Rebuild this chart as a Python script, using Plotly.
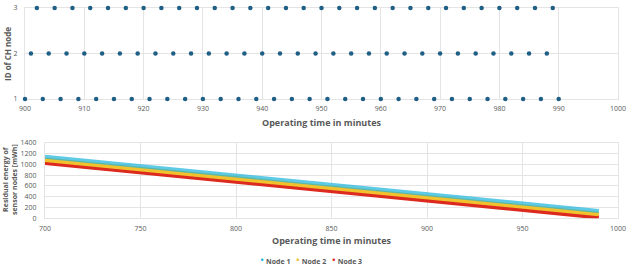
import plotly.graph_objects as go

# --- Top chart: cluster-head node ID per minute ---
ch_minutes = [900, 901, 902, 903, 904, 905, 906, 907, 908, 909,
              910, 911, 912, 913, 914, 915, 916, 917, 918, 919,
              920, 921, 922, 923, 924, 925, 926, 927, 928, 929,
              930, 931, 932, 933, 934, 935, 936, 937, 938, 939,
              940, 941, 942, 943, 944, 945, 946, 947, 948, 949,
              950, 951, 952, 953, 954, 955, 956, 957, 958, 959,
              960, 961, 962, 963, 964, 965, 966, 967, 968, 969,
              970, 971, 972, 973, 974, 975, 976, 977, 978, 979,
              980, 981, 982, 983, 984, 985, 986, 987, 988, 989,
              990]
ch_ids = [1, 2, 3, 1, 2, 3, 1, 2, 3, 1,
          2, 3, 1, 2, 3, 1, 2, 3, 1, 2,
          3, 1, 2, 3, 1, 2, 3, 1, 2, 3,
          1, 2, 3, 1, 2, 3, 1, 2, 3, 1,
          2, 3, 1, 2, 3, 1, 2, 3, 1, 2,
          3, 1, 2, 3, 1, 2, 3, 1, 2, 3,
          1, 2, 3, 1, 2, 3, 1, 2, 3, 1,
          2, 3, 1, 2, 3, 1, 2, 3, 1, 2,
          3, 1, 2, 3, 1, 2, 3, 1, 2, 3,
          1]

# --- Bottom chart: residual energy ---
energy_minutes = [700, 750, 800, 850, 900, 950, 990]
node1_energy = [1140, 965, 792, 620, 447, 275, 135]
node2_energy = [1085, 912, 740, 567, 395, 222, 80]
node3_energy = [1030, 857, 685, 512, 340, 167, 20]
node_names = ["Node 1", "Node 2", "Node 3"]
node_colors = ["#1cb5dc", "#f2c12e", "#dd2a1e"]

FONT = "Open Sans"
GRID = "#e4e4e4"
TICK = "#595959"

fig = go.Figure()

fig.add_trace(go.Scatter(
    x=ch_minutes, y=ch_ids, mode="markers",
    marker=dict(size=4.5, color="#1f5f85"),
    showlegend=False, cliponaxis=False, xaxis="x", yaxis="y"))

order = [2, 1, 0]
series = [node1_energy, node2_energy, node3_energy]
for i in order:
    fig.add_trace(go.Scatter(
        x=energy_minutes, y=series[i], mode="lines", name=node_names[i],
        line=dict(color=node_colors[i], width=4.5 if i else 4),
        opacity=0.7 if i == 0 else 1.0,
        showlegend=False, xaxis="x2", yaxis="y2"))

axis_common = dict(showgrid=True, gridcolor=GRID, gridwidth=1,
                   showline=True, linecolor=GRID, mirror=True,
                   layer="below traces", automargin=False,
                   zeroline=False, ticks="",
                   tickfont=dict(family=FONT, size=7, color=TICK))

legend_text = "   ".join(
    f"<span style='color:{c};font-size:11px'>•</span> <b>{n}</b>"
    for n, c in zip(node_names, node_colors))

fig.update_layout(
    width=635, height=266,
    margin=dict(l=0, r=0, t=0, b=0, autoexpand=False),
    paper_bgcolor="white", plot_bgcolor="white",
    font=dict(family=FONT, color=TICK),
    showlegend=False,
    xaxis=dict(domain=[25/635, 618/635], anchor="y",
               range=[900, 1000], dtick=10, ticklabelstandoff=3, **axis_common),
    yaxis=dict(domain=[1-99/266, 1-8/266], anchor="x",
               range=[1, 3], dtick=1, ticklabelstandoff=5, **axis_common),
    xaxis2=dict(domain=[45/635, 618/635], anchor="y2",
                range=[700, 1000], dtick=50, ticklabelstandoff=3, **axis_common),
    yaxis2=dict(domain=[1-218.3/266, 1-142.7/266], anchor="x2",
                range=[0, 1400], dtick=200, ticklabelstandoff=6, **axis_common),
    annotations=[
        dict(text="<b>Operating time in minutes</b>", x=321/635, y=1-122/266,
             xref="paper", yref="paper", showarrow=False,
             xanchor="center", yanchor="middle",
             font=dict(family=FONT, size=9, color=TICK)),
        dict(text="<b>ID of CH node</b>", x=8/635, y=1-54/266,
             xref="paper", yref="paper", showarrow=False, textangle=-90,
             xanchor="center", yanchor="middle",
             font=dict(family=FONT, size=8, color=TICK)),
        dict(text="<b>Operating time in minutes</b>", x=331/635, y=1-240.5/266,
             xref="paper", yref="paper", showarrow=False,
             xanchor="center", yanchor="middle",
             font=dict(family=FONT, size=9, color=TICK)),
        dict(text="<b>Residual energy of<br>sensor nodes [mWh]</b>",
             x=10/635, y=1-180/266,
             xref="paper", yref="paper", showarrow=False, textangle=-90,
             xanchor="center", yanchor="middle",
             font=dict(family=FONT, size=7, color=TICK)),
        dict(text=legend_text, x=311/635, y=1-259/266,
             xref="paper", yref="paper", showarrow=False,
             xanchor="center", yanchor="middle",
             font=dict(family=FONT, size=7, color=TICK)),
    ],
)

fig.write_html("out.html")
